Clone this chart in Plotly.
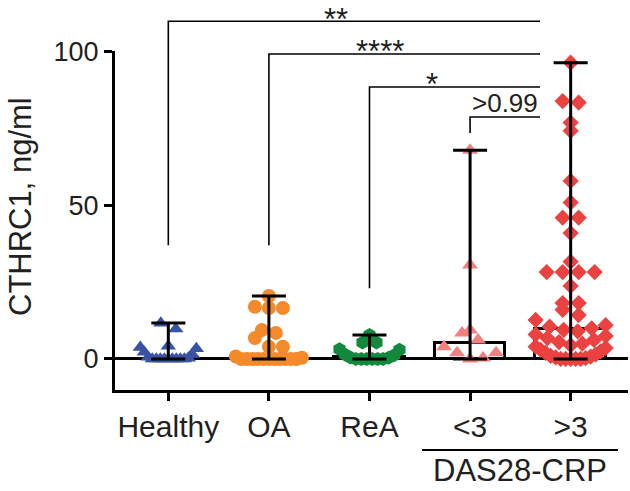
import numpy as np
import plotly.graph_objects as go

# ---------------- data ----------------
categories = ["Healthy", "OA", "ReA", "<3", ">3"]
healthy = [11.7, 9.8, 4.2, 3.8, 3.4, 2.2, 1.5, 0.6, 0.3, 0, 0, 0, 0, 0, 0, 0, 0, 0]
oa = [20.5, 17, 16.6, 16.6, 9.4, 8.5, 6.8, 4, 4, 0.8, 0.4, 0, 0, 0, 0, 0, 0, 0, 0, 0, 0, 0]
rea = [7.8, 5.4, 5.4, 3.2, 3.0, 1.5, 1.2, 0.5, 0.4, 0, 0, 0, 0, 0, 0]
das_low = [68, 30.6, 9.4, 8.5, 6.2, 4, 2, 2, 0.3, 0]
das_high = [96.5, 84, 83.5, 77, 74.3, 58, 51, 46, 46, 41, 31.7, 28.3, 28.3, 28.3, 28.3,
            23.8, 18.2, 18.2, 16, 14.3, 12.7, 11, 10.5, 10,
            9.5, 9, 8, 7.5, 6.8, 6.2, 5.5, 5, 4.5, 4, 3.6, 3, 2.5, 2, 1.5, 1, 0.8, 0.5,
            0.3, 0, 0, 0, 0, 0]
series = [healthy, oa, rea, das_low, das_high]
y_ticks = [0, 50, 100]
comparisons = [  # (from group, to group, label, bracket height, left drop)
    (0, 4, "**", 110.0, 37),
    (1, 4, "****", 99.3, 37),
    (2, 4, "*", 88.6, 23),
    (3, 4, ">0.99", 78.8, 73.6),
]

# ---------------- style ----------------
colors = ["#3953a4", "#f58a2b", "#12893d", "#f2807e", "#ec4141"]
symbols = ["triangle-up", "circle", "hexagon", "triangle-up", "diamond"]
sizes = [13.5, 14, 14, 14, 12.5]
widths_px = [15, 14, 14, 16, 16]
halfmax = [28, 33, 30, 26, 35]
TXT = "#231f20"
FONT = "Liberation Sans, Arial, Helvetica, sans-serif"

W, H = 630, 491
L, R = 115, 628          # plot area left/right px
T, B = 51, 390           # plot area top/bottom px
YMIN, YMAX = -10.1, 100.3
XMIN, XMAX = -0.53, 4.57
ppy = (B - T) / (YMAX - YMIN)
ppx = (R - L) / (XMAX - XMIN)


def xp(px):
    return (px - L) / (R - L)


def yp(py):
    return (B - py) / (B - T)


def xcat(c):
    return (c - XMIN) / (XMAX - XMIN)


def yval(v):
    return (v - YMIN) / (YMAX - YMIN)


def scatter_offsets(vals, diam, hmax):
    """Prism-like column scatter: bin by height, spread each bin around the centre."""
    vals = np.asarray(vals, float)
    bins = np.floor(vals * ppy / (diam * 0.85)).astype(int)
    offs = np.zeros(len(vals))
    for b in np.unique(bins):
        idx = [i for i in np.argsort(vals, kind="stable") if bins[i] == b]
        n = len(idx)
        step = diam if n == 1 else min(diam, 2 * hmax / (n - 1))
        for k, i in enumerate(idx):
            if n % 2:
                m = (k + 1) // 2
                sgn = 1 if k % 2 else -1
            else:
                m = k // 2 + 0.5
                sgn = 1 if k % 2 == 0 else -1
            offs[i] = sgn * m * step / ppx
    return offs


fig = go.Figure()

# median boxes
for i, vals in enumerate(series):
    med = float(np.median(vals))
    fig.add_trace(go.Bar(x=[i], y=[med], base=0, width=0.70,
                         marker=dict(color="rgba(0,0,0,0)", line=dict(color="black", width=3)),
                         showlegend=False, hoverinfo="skip"))

# points
for i, vals in enumerate(series):
    offs = scatter_offsets(vals, widths_px[i], halfmax[i])
    fig.add_trace(go.Scatter(x=i + offs, y=vals, mode="markers",
                             marker=dict(symbol=symbols[i], size=sizes[i], color=colors[i],
                                         line=dict(width=0)),
                             showlegend=False, hoverinfo="skip"))

# range error bars
for i, vals in enumerate(series):
    med = float(np.median(vals))
    fig.add_trace(go.Scatter(x=[i], y=[med], mode="markers",
                             marker=dict(size=1, color="rgba(0,0,0,0)"),
                             error_y=dict(type="data", symmetric=False,
                                          array=[max(vals) - med], arrayminus=[med - min(vals)],
                                          color="black", thickness=3, width=17),
                             showlegend=False, hoverinfo="skip"))

shapes = []
annotations = []
# significance brackets
x_right = xp(540)
for a, b, lab, h, drop in comparisons:
    shapes.append(dict(type="path", xref="paper", yref="paper",
                       path=f"M {xcat(a)} {yval(drop)} L {xcat(a)} {yval(h)} L {x_right} {yval(h)}",
                       line=dict(color="black", width=1.6)))
# label anchor (px x, px y, vertical anchor)
label_pos = {"**": (336, 0, "top"), "****": (380, 51, "middle"),
             "*": (432, 84, "middle"), ">0.99": (505, 103, "middle")}
for a, b, lab, h, drop in comparisons:
    lx, ly, va = label_pos[lab]
    annotations.append(dict(text=lab, xref="paper", yref="paper",
                            x=xp(lx), y=yp(ly), yanchor=va, xanchor="center",
                            showarrow=False,
                            font=dict(size=26 if lab == ">0.99" else 31, color=TXT, family=FONT)))

# y-axis title
annotations.append(dict(text="CTHRC1, ng/ml", xref="paper", yref="paper", x=xp(20), y=yp(207),
                        textangle=-90, showarrow=False, xanchor="center", yanchor="middle",
                        font=dict(size=31, color=TXT, family=FONT)))
# DAS28-CRP group label
shapes.append(dict(type="line", xref="paper", yref="paper", x0=xp(422), x1=xp(618),
                   y0=yp(450), y1=yp(450), line=dict(color="black", width=2)))
annotations.append(dict(text="DAS28-CRP", xref="paper", yref="paper", x=xp(520), y=yp(490),
                        showarrow=False, xanchor="center", yanchor="bottom",
                        font=dict(size=31, color=TXT, family=FONT)))

fig.update_layout(
    width=W, height=H, margin=dict(l=L, r=W - R, t=T, b=H - B),
    plot_bgcolor="white", paper_bgcolor="white", bargap=0,
    shapes=shapes, annotations=annotations,
    xaxis=dict(range=[XMIN, XMAX], tickvals=list(range(len(categories))), ticktext=categories,
               showline=True, linecolor="black", linewidth=3, ticks="outside", ticklen=8,
               tickwidth=3, tickcolor="black", showgrid=False, zeroline=False,
               tickfont=dict(size=30, color=TXT, family=FONT)),
    yaxis=dict(range=[YMIN, YMAX], tickvals=y_ticks, showline=True, linecolor="black",
               linewidth=3, ticks="outside", ticklen=8, tickwidth=3, tickcolor="black",
               showgrid=False, zeroline=True, zerolinecolor="black", zerolinewidth=2.5,
               tickfont=dict(size=27, color=TXT, family=FONT)),
)

fig.write_html("out.html", config={"displayModeBar": False},
               post_script="document.body.style.margin='0px';")
